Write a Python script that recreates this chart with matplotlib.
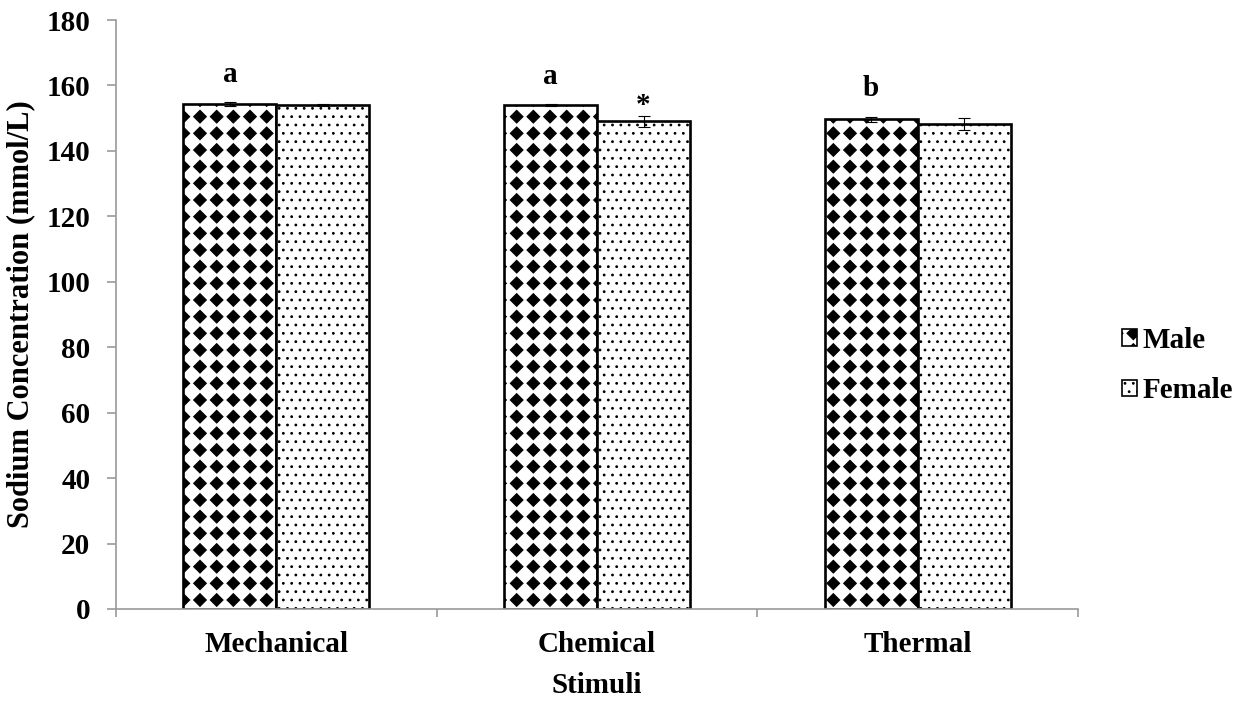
import numpy as np
import matplotlib
matplotlib.use("Agg")
import matplotlib.pyplot as plt
from matplotlib import hatch as mhatch
from matplotlib.path import Path
from matplotlib.patches import Patch

# ---- data -------------------------------------------------------------
stimuli = ["Mechanical", "Chemical", "Thermal"]
male = [154.2, 154.0, 149.6]
female = [153.9, 149.0, 148.2]
male_err = [0.6, 0.4, 0.9]
female_err = [0.3, 1.8, 1.8]
male_letters = ["a", "a", "b"]
female_marks = ["", "*", ""]
yticks = [0, 20, 40, 60, 80, 100, 120, 140, 160, 180]


# ---- custom hatch: filled diamonds on a square grid --------------------
class FilledDiamonds(mhatch.Shapes):
    """Square grid of solid diamonds (replaces the 'O' hatch)."""
    size = 0.38
    filled = True

    def __init__(self, hatch, density):
        self.num_rows = hatch.count("O") * density
        self.shape_vertices = np.array([[0, 1], [1, 0], [0, -1], [-1, 0], [0, 1]], float)
        self.shape_codes = np.array([Path.MOVETO, Path.LINETO, Path.LINETO,
                                     Path.LINETO, Path.CLOSEPOLY])
        if self.num_rows == 0:
            self.num_shapes = 0
            self.num_vertices = 0
        else:
            self.num_shapes = (self.num_rows + 1) ** 2
            self.num_vertices = self.num_shapes * len(self.shape_vertices)

    def set_vertices_and_codes(self, vertices, codes):
        offset = 1.0 / self.num_rows
        shape = self.shape_vertices * offset * self.size
        vparts, cparts = [], []
        grid = np.linspace(0, 1, self.num_rows + 1)
        for r in grid:
            for c in grid:
                vparts.append(shape + [c, r])
                cparts.append(self.shape_codes)
        np.concatenate(vparts, out=vertices)
        np.concatenate(cparts, out=codes)


mhatch._hatch_types = [FilledDiamonds if t is mhatch.LargeCircles else t
                       for t in mhatch._hatch_types]

plt.rcParams["font.family"] = ["Liberation Serif", "DejaVu Serif"]
plt.rcParams["font.weight"] = "bold"
plt.rcParams["hatch.linewidth"] = 0.8
plt.rcParams["hatch.color"] = "black"

FS = 21
MALE_HATCH = "O"
FEMALE_HATCH = ".."

fig = plt.figure(figsize=(12.47, 7.02), dpi=100)
ax = fig.add_axes([0.093, 0.1325, 0.7715, 0.8390])

x = np.arange(len(stimuli))
w = 0.29
axis_grey = "#9a9a9a"

ax.bar(x - w / 2, male, w, color="white", edgecolor="black", linewidth=1.9,
       hatch=MALE_HATCH, zorder=2)
ax.bar(x + w / 2, female, w, color="white", edgecolor="black", linewidth=1.9,
       hatch=FEMALE_HATCH, zorder=2)
ax.errorbar(x - w / 2, male, yerr=male_err, fmt="none", ecolor="black",
            elinewidth=0.8, capsize=4.5, capthick=0.8, zorder=3)
ax.errorbar(x + w / 2, female, yerr=female_err, fmt="none", ecolor="black",
            elinewidth=0.8, capsize=4.5, capthick=0.8, zorder=3)

for xi, v, e, t in zip(x - w / 2, male, male_err, male_letters):
    ax.annotate(t, (xi, v + e), xytext=(0, 14.5), textcoords="offset points",
                ha="center", va="baseline", fontsize=FS, fontweight="bold")
for xi, v, e, t in zip(x + w / 2, female, female_err, female_marks):
    if t:
        ax.annotate(t, (xi, v + e), xytext=(0, 2), textcoords="offset points",
                    ha="center", va="baseline", fontsize=FS, fontweight="bold")

ax.set_xlim(-0.5, len(stimuli) - 0.5)
ax.set_ylim(0, 180)
ax.set_yticks(yticks)
ax.set_xticks(x)
ax.set_xticklabels(stimuli)
ax.set_xticks(np.arange(-0.5, len(stimuli)), minor=True)
ax.tick_params(axis="x", which="major", length=0, pad=16, labelsize=FS)
ax.tick_params(axis="x", which="minor", length=6, color=axis_grey, width=1.2)
ax.tick_params(axis="y", length=6.5, color=axis_grey, width=1.2, pad=12,
               labelsize=FS)
for lab in ax.get_xticklabels() + ax.get_yticklabels():
    lab.set_fontweight("bold")

for s in ("top", "right"):
    ax.spines[s].set_visible(False)
for s in ("left", "bottom"):
    ax.spines[s].set_color(axis_grey)
    ax.spines[s].set_linewidth(1.2)

ax.set_xlabel("Stimuli", fontsize=FS, fontweight="bold", labelpad=10)
ax.set_ylabel("Sodium Concentration (mmol/L)", fontsize=22, fontweight="bold",
              labelpad=8)

handles = [Patch(facecolor="white", edgecolor="black", linewidth=1.2,
                 hatch=MALE_HATCH, label="Male"),
           Patch(facecolor="white", edgecolor="black", linewidth=1.2,
                 hatch=FEMALE_HATCH, label="Female")]
leg = fig.legend(handles=handles, loc="center left",
                 bbox_to_anchor=(0.9, 0.479), frameon=False,
                 prop={"size": FS, "weight": "bold"},
                 handlelength=0.5, handleheight=0.5, handletextpad=0.2,
                 labelspacing=0.8, borderaxespad=0, borderpad=0)

fig.savefig("out.png", dpi=100, facecolor="white")
